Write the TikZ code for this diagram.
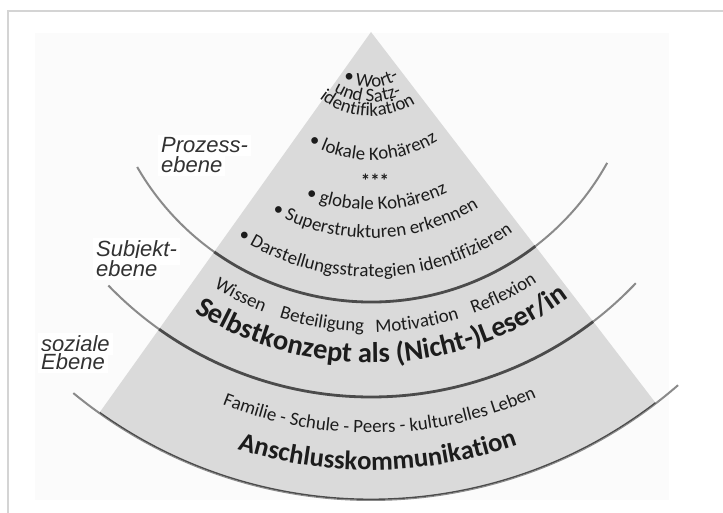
\documentclass[tikz,border=0pt]{standalone}
\usepackage{fontspec}
\setmainfont{Carlito}
\newfontfamily\lblfont{Liberation Sans}
\usetikzlibrary{decorations.text,calc}
\definecolor{sectorgray}{RGB}{218,218,218}
\definecolor{arcdark}{RGB}{75,75,75}
\definecolor{arclight}{RGB}{138,138,138}
\definecolor{framegray}{RGB}{212,212,212}
\definecolor{faintbg}{RGB}{251,251,251}
\definecolor{txt}{RGB}{28,28,28}
\definecolor{lbltxt}{RGB}{50,50,50}
\newcommand\sfnt{\fontsize{18.9}{21}\selectfont}
\newcommand\bfnt{\bfseries\fontsize{28.5}{32}\selectfont}
\newcommand\bfntb{\bfseries\fontsize{26.7}{30}\selectfont}
\newcommand\ctext[4]{\path[decorate,decoration={text along path,text align=center,text color=txt,text={#4}}] ($(C)+(-90+#2-#3:#1)$) arc[start angle=-90+#2-#3,end angle=-90+#2+#3,radius=#1];}
\newcommand\levelarcs[1]{%
  \draw[#1] ($(C)+(-150:270)$) arc[start angle=-150,end angle=-29,radius=270];
  \draw[#1] ($(C)+(-136:365)$) arc[start angle=-136,end angle=-43.5,radius=365];
  \draw[#1] ($(C)+(-129.5:468)$) arc[start angle=-129.5,end angle=-49,radius=468];}
\begin{document}
\begin{tikzpicture}[x=1pt,y=1pt,
  lbl/.style={font=\lblfont\itshape\fontsize{22}{22}\selectfont, text=lbltxt, fill=white, inner sep=3pt, anchor=base west},
  arcout/.style={draw=arclight, line width=2pt},
  arcin/.style={draw=arcdark, line width=2.8pt},
  stars/.style={font=\sfnt\bfseries, text=txt, inner sep=0pt, anchor=base}]
\useasboundingbox (0,0) rectangle (723,513);
\fill[white] (0,0) rectangle (723,513);
\fill[faintbg] (35,13) rectangle (669,480);
\coordinate (bl) at (8,0);
\coordinate (tl) at (8,502);
\coordinate (tr) at (723,502);
\draw[framegray, line width=2pt] (bl) -- (tl) -- (tr);
\coordinate (C) at (371,481);
% side labels
\node[lbl] (pz1) at (158,360) {Prozess-};
\node[lbl] (pz2) at (158,340) {ebene};
\node[lbl] (sb1) at (93,256) {Subjekt-};
\node[lbl] (sb2) at (93,236) {ebene};
\node[lbl] (so1) at (38,161) {soziale};
\node[lbl] (so2) at (38,143) {Ebene};
% arcs outside the sector
\levelarcs{arcout}
% sector
\fill[sectorgray] (C) -- ($(C)+(-125.5:468)$) arc[start angle=-125.5,end angle=-52.5,radius=468] -- cycle;
\begin{scope}
  \clip (C) -- ($(C)+(-125.5:468)$) arc[start angle=-125.5,end angle=-52.5,radius=468] -- cycle;
  \levelarcs{arcin}
\end{scope}
% process level
\ctext{55}{0}{80}{|\sfnt|• Wort-}
\ctext{70}{-3}{80}{|\sfnt|und Satz-}
\ctext{84}{-3}{80}{|\sfnt|identifikation}
\ctext{128}{1}{60}{|\sfnt|• lokale Kohärenz}
\node[stars] (dots) at (375,325) {***};
\ctext{178}{2}{50}{|\sfnt|• globale Kohärenz}
\ctext{206}{1.4}{45}{|\sfnt|• Superstrukturen erkennen}
\ctext{245}{1.2}{45}{|\sfnt|• Darstellungsstrategien identifizieren}
% subject level
\ctext{300}{-26.3}{20}{|\sfnt|Wissen}
\ctext{300}{-9.6}{20}{|\sfnt|Beteiligung}
\ctext{300}{9}{20}{|\sfnt|Motivation}
\ctext{300}{26.8}{20}{|\sfnt|Reflexion}
\ctext{331}{2.2}{40}{|\bfnt|Selbstkonzept als (Nicht-)Leser/in}
% social level
\ctext{401}{1.3}{35}{|\sfnt|Familie - Schule - Peers - kulturelles Leben}
\ctext{438}{0.9}{30}{|\bfntb|Anschlusskommunikation}
\end{tikzpicture}
\end{document}
